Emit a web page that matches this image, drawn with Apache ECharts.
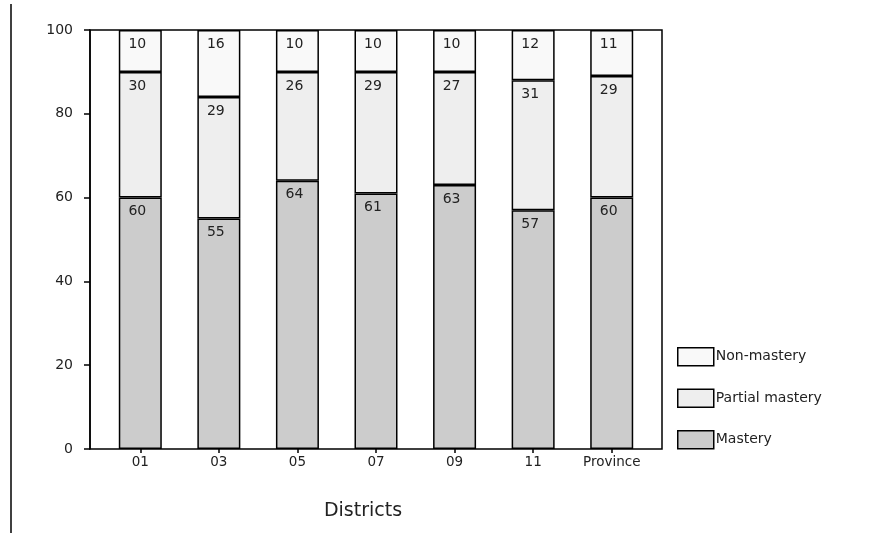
<!DOCTYPE html>
<html><head><meta charset="utf-8">
<script src="https://cdn.jsdelivr.net/npm/echarts@6/dist/echarts.min.js"></script>
<style>html,body{margin:0;padding:0;background:#fff}#c{width:872px;height:534px}</style>
</head><body><div id="c"></div>
<script>
const categories = ['01','03','05','07','09','11','Province'];
const mastery = [60,55,64,61,63,57,60];
const partial = [30,29,26,29,27,31,29];
const nonMastery = [10,16,10,10,10,12,11];
const yTicks = [0,20,40,60,80,100];

const font = 'DejaVu Sans';
const chart = echarts.init(document.getElementById('c'), null, {renderer:'canvas'});
function seg(name, data, color){
  return {
    name, type:'bar', stack:'s', data, barWidth:43, xAxisIndex:1, yAxisIndex:1,
    itemStyle:{color, borderColor:'#000', borderWidth:1.5},
    label:{show:true, position:'insideTop', offset:[-3,2], color:'#222', fontFamily:font, fontSize:14},
    emphasis:{disabled:true}
  };
}
chart.setOption({
  animation:false,
  grid:[
    {left:90, right:210, top:30, bottom:85, show:true, borderColor:'#000', borderWidth:1.5, backgroundColor:'transparent'},
    {left:101, right:221, top:30, bottom:85}
  ],
  xAxis:[
    {gridIndex:0, type:'value', min:0, max:1, show:false},
    {gridIndex:1, type:'category', data:categories, boundaryGap:true,
      axisLine:{show:false},
      axisTick:{show:true, alignWithLabel:true, length:4, lineStyle:{color:'#000', width:1.5}},
      axisLabel:{color:'#222', fontFamily:font, fontSize:13.5, margin:6}}
  ],
  yAxis:[
    {gridIndex:0, type:'value', min:0, max:100, interval:20,
      axisLine:{show:true, lineStyle:{color:'#000', width:1.5}},
      axisTick:{show:true, length:6, lineStyle:{color:'#000', width:1.5}},
      axisLabel:{color:'#222', fontFamily:font, fontSize:14, margin:17},
      splitLine:{show:false}},
    {gridIndex:1, type:'value', min:0, max:100, show:false, splitLine:{show:false}}
  ],
  legend:{
    orient:'vertical', left:677, top:347, padding:0, itemWidth:36, itemHeight:18, itemGap:22,
    icon:'rect',
    data:['Non-mastery','Partial mastery','Mastery'],
    textStyle:{color:'#222', fontFamily:font, fontSize:14, padding:[0,0,0,-3]},
    itemStyle:{borderColor:'#000', borderWidth:1.5}
  },
  graphic:[
    {type:'line', shape:{x1:11, y1:4, x2:11, y2:533}, style:{stroke:'#000', lineWidth:1.5}},
    {type:'text', x:363, y:511, style:{text:'Districts', fill:'#222', font:'19px "DejaVu Sans"', textAlign:'center', textVerticalAlign:'middle'}}
  ],
  series:[
    seg('Mastery', mastery, '#cccccc'),
    seg('Partial mastery', partial, '#eeeeee'),
    seg('Non-mastery', nonMastery, '#f9f9f9')
  ]
});
</script></body></html>
